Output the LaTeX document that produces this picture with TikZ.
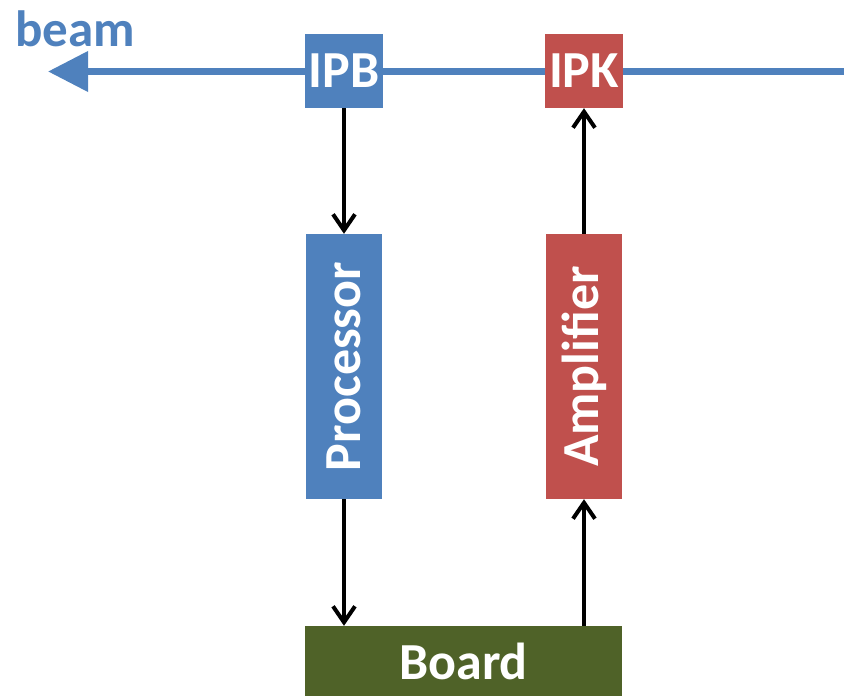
\documentclass[tikz,border=0pt]{standalone}
\usepackage{fontspec}
\setmainfont{Carlito}
\usetikzlibrary{arrows.meta}
\definecolor{cblue}{HTML}{4F81BD}
\definecolor{cred}{HTML}{C0504D}
\definecolor{cgreen}{HTML}{4F6228}
\begin{document}
\begin{tikzpicture}[x=1pt,y=-1pt,
  lbl/.style={font=\fontsize{52}{52}\selectfont\bfseries, text=white, inner sep=0pt},
  bluebox/.style={lbl, fill=cblue, draw=none},
  redbox/.style={lbl, fill=cred, draw=none},
  greenbox/.style={lbl, fill=cgreen, draw=none},
  sig/.style={line width=4pt, -{Straight Barb[length=16pt,width=22pt]}},
  beamline/.style={line width=7pt, cblue, -{Triangle[length=40pt,width=39pt]}}]
\useasboundingbox (0,0) rectangle (844,696);
\coordinate (beamR) at (844,71.5);
\coordinate (beamL) at (48,71.5);
\draw[beamline] (beamR) -- (beamL);
\node[font=\fontsize{51}{51}\selectfont\bfseries, text=cblue, inner sep=0pt] (beam) at (75,29) {beam};
\node[bluebox, minimum width=78pt, minimum height=74pt] (IPB) at (344,71) {IPB};
\node[redbox, minimum width=78pt, minimum height=74pt] (IPK) at (584,71) {IPK};
\node[bluebox, minimum width=76pt, minimum height=265pt] (Proc) at (344,366.5) {\rotatebox{90}{Processor}};
\node[redbox, minimum width=76pt, minimum height=265pt] (Amp) at (584,366.5) {\rotatebox{90}{Amplifier}};
\node[greenbox, minimum width=317pt, minimum height=70pt] (Board) at (463.5,661) {Board};
\draw[sig] (IPB.south) -- (Proc.north);
\draw[sig] (Proc.south) -- (Proc.south |- Board.north);
\draw[sig] (Amp.south |- Board.north) -- (Amp.south);
\draw[sig] (Amp.north) -- (IPK.south);
\end{tikzpicture}
\end{document}
